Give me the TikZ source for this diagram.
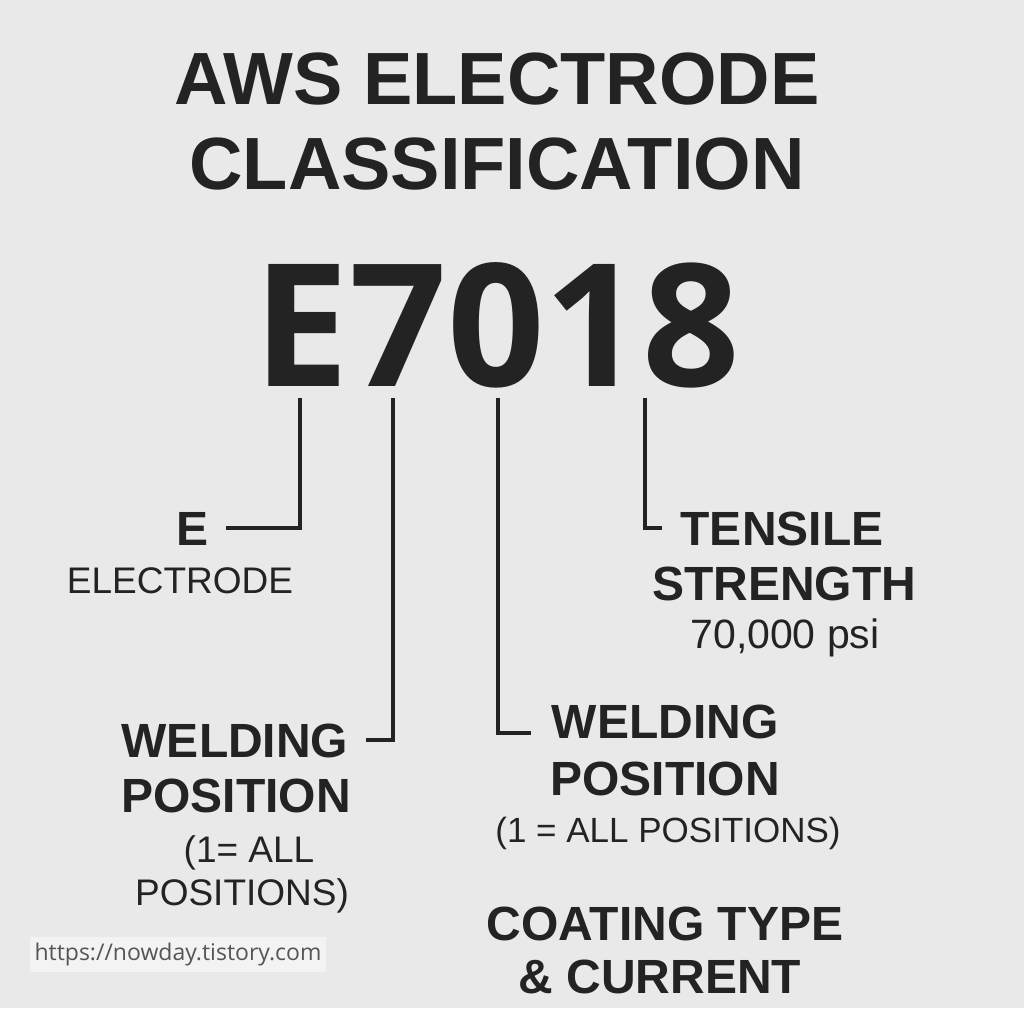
\documentclass[tikz,border=0pt]{standalone}
\usepackage{fontspec}
\setmainfont{Liberation Sans}
\newfontfamily\numfont{Open Sans}
\newfontfamily\urlfont{Open Sans}
\usetikzlibrary{positioning}

\definecolor{ink}{HTML}{232323}
\definecolor{paper}{HTML}{E9E9E9}
\definecolor{urlbg}{HTML}{F3F3F3}
\definecolor{urlink}{HTML}{555555}

\begin{document}
\begin{tikzpicture}[x=1pt,y=-1pt]
   \tikzset{lead/.style = {draw=ink, line width=4pt}, }
   \tikzset{lbl/.style = {inner sep=0pt, anchor=base, text=ink}, }
   \tikzset{title/.style = {lbl, font=\fontsize{74}{80}\selectfont\bfseries}, }
   \tikzset{code/.style = {lbl, font=\numfont\fontsize{171}{180}\selectfont\bfseries}, }
   \tikzset{head/.style = {lbl, font=\fontsize{48}{55}\selectfont\bfseries}, }
   \tikzset{sub/.style = {lbl, font=\fontsize{37}{42}\selectfont}, }

   \fill[paper] (0,0) rectangle (1024,1008);
   \useasboundingbox (0,0) rectangle (1024,1008);

   % heading
   \node[title] (ttl1) at (497,105) {AWS ELECTRODE};
   \node[title] (ttl2) at (497,190) {CLASSIFICATION};
   \node[code] (code) at (497,386) {E7018};

   % leader tops under each character
   \coordinate (tE) at (300,398);
   \coordinate (t7) at (393,398);
   \coordinate (t0) at (498,398);
   \coordinate (t8) at (645,398);

   % E
   \node[head] (lblE) at (193,545) {E};
   \node[sub] (elec) at (180,593) {ELECTRODE};

   % 70
   \node[head] (tens) at (782,545) {TENSILE};
   \node[head] (strg) at (784,600) {STRENGTH};
   \node[sub, font=\fontsize{41}{45}\selectfont] (psi) at (785,648) {70,000 psi};

   % 1, left
   \node[head] (wldL) at (235,757) {WELDING};
   \node[head] (posL) at (236,812) {POSITION};
   \node[sub] (allL) at (249,862) {(1= ALL};
   \node[sub] (alpL) at (242,905) {POSITIONS)};

   % 1, right
   \node[head] (wldR) at (665,738) {WELDING};
   \node[head] (posR) at (665,795) {POSITION};
   \node[sub, font=\fontsize{35}{40}\selectfont] (allR) at (668,842) {(1 = ALL POSITIONS)};

   % 8
   \node[head] (coat) at (665,940) {COATING TYPE};
   \node[head] (curr) at (660,993) {\& CURRENT};

   % leaders
   \draw[lead] (tE) |- ([xshift=17pt]lblE.east);
   \draw[lead] (t7) |- ([xshift=17pt]wldL.east);
   \draw[lead] (t0) |- ([xshift=-20pt,yshift=-12pt]wldR.west);
   \draw[lead] (t8) |- ([xshift=-18pt]tens.west);

   \node[fill=urlbg, text=urlink, inner sep=3pt, minimum width=296pt, minimum height=35pt,
         font=\urlfont\fontsize{23}{26}\selectfont] (url) at (178,954.5) {https://nowday.tistory.com};
\end{tikzpicture}
\end{document}
